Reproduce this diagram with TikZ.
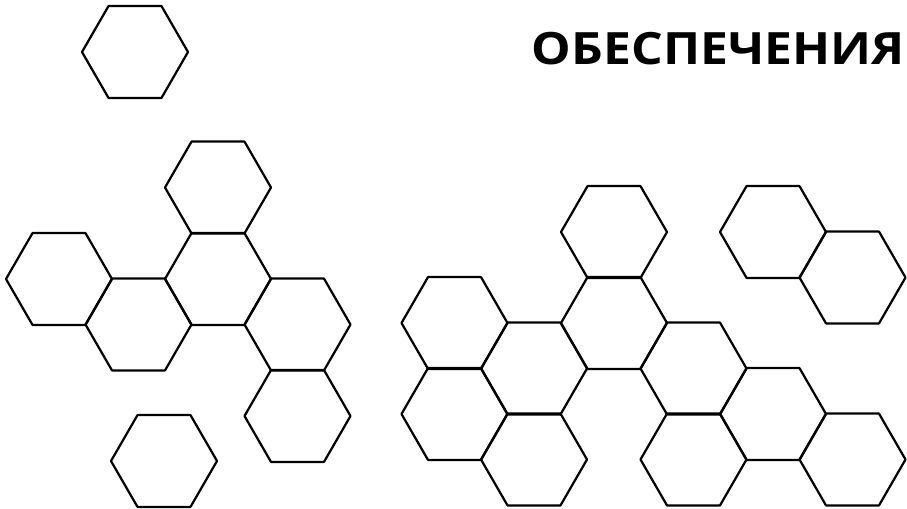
\documentclass[tikz,border=0pt]{standalone}
\usepackage{fontspec}
\setmainfont{Open Sans}
\usetikzlibrary{shapes.geometric}

\begin{document}
\begin{tikzpicture}[x=0.03cm,y=-0.03cm]
  \tikzset{
    hexcell/.style={draw=black,line width=1.9pt,line join=round,regular polygon,
      regular polygon sides=6,minimum size=3.18cm,inner sep=0pt},
    heading/.style={font=\bfseries\fontsize{38}{40}\selectfont,anchor=base east,inner sep=0pt}
  }
  \useasboundingbox (0,0) rectangle (907,508);

  % Heading, upper right.
  \node[heading] (title) at (905,65) {\scalebox{1.12}[1]{ОБЕСПЕЧЕНИЯ}};

  % Lone cells.
  \node[hexcell] (lone top) at (135,52) {};
  \node[hexcell] (lone bottom) at (164,461) {};

  % Left cluster.
  \foreach \n/\x/\y in {a1/59/279, a2/138.5/324.5, a3/218/279, a4/218/187.5,
                        a5/297.5/324.5, a6/297.5/416} {
    \node[hexcell] (\n) at (\x,\y) {};
  }

  % Right cluster.
  \foreach \n/\x/\y in {c1/454.5/323, c2/454.5/414, c3/534/368.5, c4/534/459.5,
                        c5/614/232, c6/614/323, c7/693.5/368.5, c8/693.5/459.5,
                        c9/773/414, c10/852.5/459.5} {
    \node[hexcell] (\n) at (\x,\y) {};
  }

  % Pair at the upper right.
  \node[hexcell] (d1) at (773,232) {};
  \node[hexcell] (d2) at (852.5,277.5) {};
\end{tikzpicture}
\end{document}
